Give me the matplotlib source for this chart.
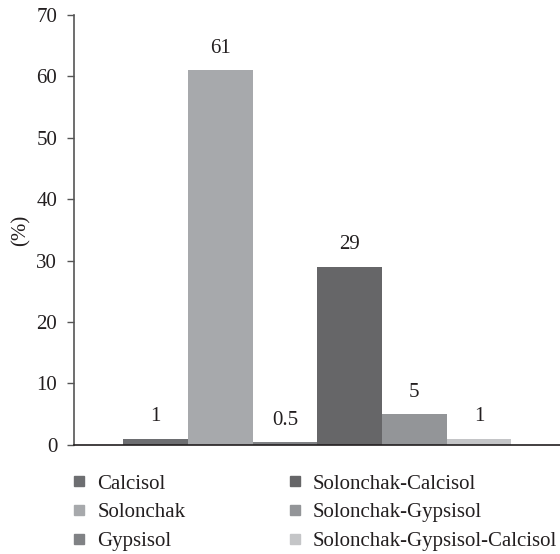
import matplotlib.pyplot as plt
from matplotlib.lines import Line2D
import numpy as np

plt.rcParams['font.family'] = ['Liberation Serif', 'DejaVu Serif']

soils = ['Calcisol', 'Solonchak', 'Gypsisol',
         'Solonchak-Calcisol', 'Solonchak-Gypsisol', 'Solonchak-Gypsisol-Calcisol']
shares = [1, 61, 0.5, 29, 5, 1]
labels = ['1', '61', '0.5', '29', '5', '1']
colors = ['#6d6e71', '#a7a9ac', '#808285', '#666668', '#939598', '#c4c5c7']

fs = 15

fig = plt.figure(figsize=(5.6, 5.54), dpi=100)
ax = fig.add_axes([0.132, 0.197, 0.868, 0.776])

width = 1.0
x = np.arange(len(soils)) * width
bars = ax.bar(x, shares, width=width, color=colors, align='edge')
for b, lab in zip(bars, labels):
    ax.text(b.get_x() + b.get_width() / 2, b.get_height() + 2.0, lab,
            ha='center', va='bottom', fontsize=fs, color='#231f20')

ax.set_xlim(-0.76, 6.75)
ax.set_ylim(0, 70)
ax.set_yticks(range(0, 71, 10))
ax.set_xticks([])
ax.set_ylabel('(%)', fontsize=fs, color='#231f20', labelpad=4)
ax.tick_params(axis='y', labelsize=fs, labelcolor='#231f20', color='#555555',
               length=5, width=1, pad=7)
for s in ['top', 'right']:
    ax.spines[s].set_visible(False)
ax.spines['left'].set_color('#555555')
ax.spines['bottom'].set_color('#231f20')
ax.spines['left'].set_linewidth(1.2)
ax.spines['bottom'].set_linewidth(1.2)

handles = [Line2D([], [], marker='s', linestyle='none', markersize=7.2,
                  markerfacecolor=c, markeredgecolor=c) for c in colors]
fig.legend(handles, soils, ncol=2, loc='upper left', bbox_to_anchor=(0.1148, 0.163),
           frameon=False, fontsize=fs, handlelength=0.45, handletextpad=0.64,
           columnspacing=5.03, labelspacing=0.44, labelcolor='#231f20',
           borderpad=0)

fig.savefig('out.png')
